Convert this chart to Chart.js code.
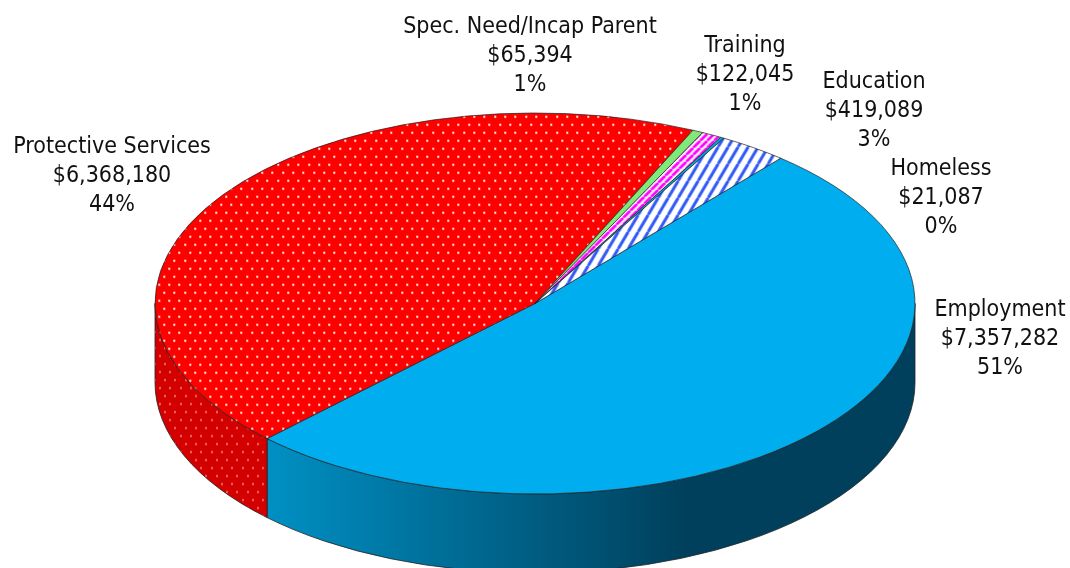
<!DOCTYPE html>
<html>
<head>
<meta charset="utf-8">
<title>Pie</title>
<script src="https://cdn.jsdelivr.net/npm/chart.js@4"></script>
<style>
  html, body { margin: 0; padding: 0; background: #fff; overflow: hidden; }
  canvas { display: block; }
</style>
</head>
<body>
<canvas id="pie" width="1070" height="568"></canvas>
<script>
// data
const categories = ['Employment', 'Protective Services', 'Spec. Need/Incap Parent', 'Training', 'Homeless', 'Education'];
const amounts = [7357282, 6368180, 65394, 122045, 21087, 419089];
const percents = ['51%', '44%', '1%', '1%', '0%', '3%'];

// where the 3 lines of each label go (center x, first baseline y)
const labelAnchors = [[1000, 316], [112, 153], [530, 33], [745, 52], [941, 175], [874, 88]];
const lineHeight = 29;

// shape of the fake 3d pie
const centerX = 535, centerY = 303.5, radiusX = 380, radiusY = 190.5, depth = 79;

function makeTile(w, h, paint) {
  const c = document.createElement('canvas');
  c.width = w; c.height = h;
  paint(c.getContext('2d'));
  return document.createElement('canvas').getContext('2d').createPattern(c, 'repeat');
}

function dots(bg, dotColor, dw, dh) {
  return makeTile(31, 16, g => {
    g.fillStyle = bg;
    g.fillRect(0, 0, 31, 16);
    g.fillStyle = dotColor;
    [[5, 4], [15, 4], [26, 4], [0, 12], [10, 12], [20, 12], [31, 12]].forEach(p => {
      g.beginPath();
      g.ellipse(p[0], p[1], dw, dh, 0, 0, Math.PI * 2);
      g.fill();
    });
  });
}

function stripes(w, h, color, lw) {
  return makeTile(w, h, g => {
    g.fillStyle = '#fff';
    g.fillRect(0, 0, w, h);
    g.strokeStyle = color;
    g.lineWidth = lw;
    [-w, 0, w].forEach(o => {
      g.beginPath();
      g.moveTo(o, h);
      g.lineTo(o + w, 0);
      g.stroke();
    });
  });
}

const redDots = dots('#ff0000', '#fff', 1, 1.2);
const redSideDots = dots('#d40000', 'rgba(255,255,255,0.6)', 0.7, 1.6);
const blueHatch = stripes(10, 17, '#2f58f5', 3);
const pinkHatch = stripes(7, 7, '#ff00ff', 2.8);

const sliceColors = ['#00aeef', redDots, '#80ea78', pinkHatch, '#00a8d8', blueHatch];

const pie3d = {
  id: 'pie3d',
  beforeDatasetsDraw(chart) {
    const ctx = chart.ctx;
    const arcs = chart.getDatasetMeta(0).data;
    const r = arcs[0].outerRadius;
    const sx = radiusX / r, sy = radiusY / r;

    // keep the fill patterns at screen size
    const m = new DOMMatrix().scale(1 / sx, 1 / sy);
    [redDots, pinkHatch, blueHatch].forEach(p => p.setTransform(m));

    // outer wall, only the front half can be seen
    const grad = ctx.createLinearGradient(266, 0, 685, 0);
    grad.addColorStop(0, '#0090c4');
    grad.addColorStop(1, '#00405c');
    const wallColors = [grad, redSideDots];
    arcs.forEach((arc, i) => {
      const a0 = Math.max(arc.startAngle, 0);
      const a1 = Math.min(arc.endAngle, Math.PI);
      if (a1 <= a0 || !wallColors[i]) return;
      ctx.beginPath();
      ctx.ellipse(centerX, centerY, radiusX, radiusY, 0, a0, a1);
      ctx.ellipse(centerX, centerY + depth, radiusX, radiusY, 0, a1, a0, true);
      ctx.closePath();
      ctx.fillStyle = wallColors[i];
      ctx.fill();
      ctx.strokeStyle = '#222';
      ctx.lineWidth = 0.8;
      ctx.stroke();
    });

    // squash the pie itself
    ctx.save();
    ctx.translate(centerX, centerY);
    ctx.scale(sx, sy);
    ctx.translate(-arcs[0].x, -arcs[0].y);
  },
  afterDatasetsDraw(chart) {
    const ctx = chart.ctx;
    ctx.restore();

    ctx.fillStyle = '#111';
    ctx.font = '23px "DejaVu Sans Condensed", "DejaVu Sans"';
    ctx.textAlign = 'center';
    ctx.textBaseline = 'alphabetic';
    categories.forEach((name, i) => {
      const [x, y] = labelAnchors[i];
      ctx.fillText(name, x, y);
      ctx.fillText('$' + amounts[i].toLocaleString('en-US'), x, y + lineHeight);
      ctx.fillText(percents[i], x, y + lineHeight * 2);
    });
  }
};

new Chart(document.getElementById('pie'), {
  type: 'pie',
  data: {
    labels: categories,
    datasets: [{
      data: amounts,
      backgroundColor: sliceColors,
      borderColor: '#222',
      borderWidth: 0.7
    }]
  },
  options: {
    responsive: false,
    animation: false,
    rotation: 40.3,
    layout: { padding: 0 },
    plugins: { legend: { display: false }, tooltip: { enabled: false } }
  },
  plugins: [pie3d]
});
</script>
</body>
</html>
